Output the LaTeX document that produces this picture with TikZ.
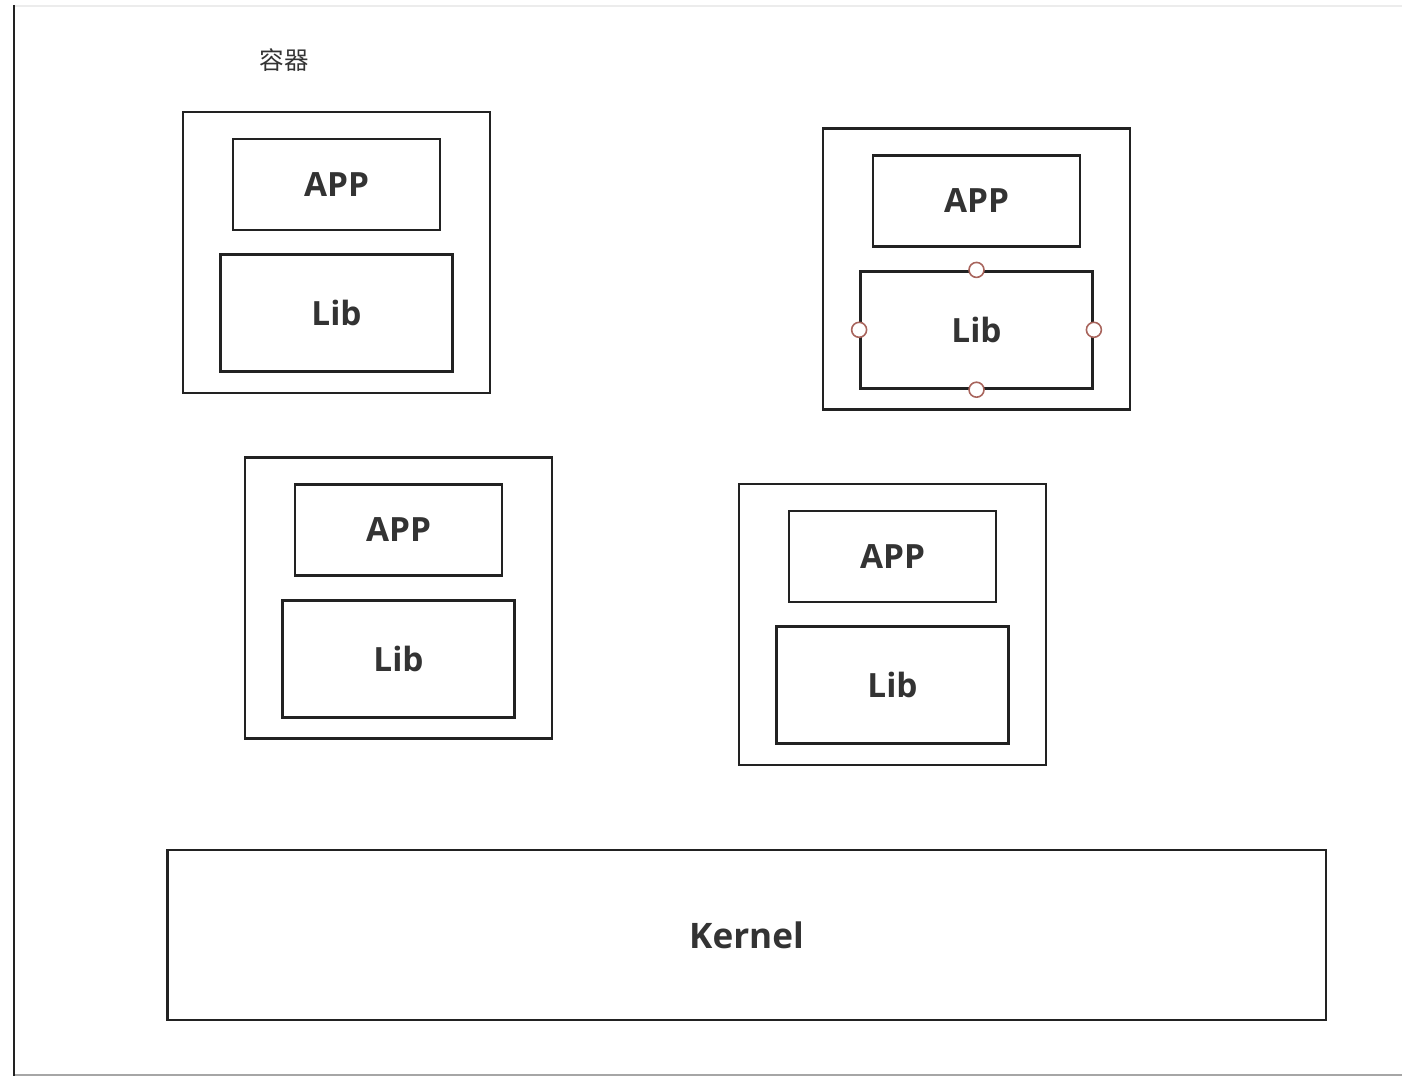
\documentclass[tikz,border=0pt]{standalone}
\usepackage{fontspec}
\usepackage{xcolor}
\usepackage{tikz}
\usetikzlibrary{positioning}
\setmainfont{Open Sans}
\newfontfamily\cjk{Noto Sans CJK TC}
\definecolor{ink}{HTML}{222222}
\definecolor{txt}{HTML}{333333}
\definecolor{handlered}{HTML}{A8645C}
\tikzstyle{container} = [rectangle, draw=ink, line width=1.6pt, minimum width=6.14cm, minimum height=5.62cm]
\tikzstyle{app} = [rectangle, draw=ink, line width=1.6pt, text=txt, minimum width=4.14cm, minimum height=1.82cm, font=\fontsize{19}{22}\selectfont\bfseries]
\tikzstyle{lib} = [rectangle, draw=ink, line width=1.6pt, text=txt, minimum width=4.64cm, minimum height=2.34cm, font=\fontsize{19}{22}\selectfont\bfseries]
\tikzstyle{kernel} = [rectangle, draw=ink, line width=1.6pt, text=txt, minimum width=23.18cm, minimum height=3.4cm, font=\fontsize{20}{24}\selectfont\bfseries]
\tikzstyle{handle} = [circle, draw=handlered, fill=white, line width=0.9pt, minimum size=0.3cm, inner sep=0pt]

\begin{document}
\begin{tikzpicture}[x=0.02cm, y=-0.02cm, node distance=0.44cm]
\useasboundingbox (0,0) rectangle (1412,1081);
% window frame
\draw[gray!15, line width=1pt] (14,6) -- (1402,6);
\draw[gray!70, line width=1.2pt] (14,1075) -- (1402,1075);
\draw[ink, line width=1.6pt] (14,5) -- (14,1076);

\node (title) [text=txt, font=\cjk\fontsize{14}{16}\selectfont] at (284,60) {容器};

% containers
\node (c1) [container] at (336.5,252.5) {};
\node (app1) [app, below=0.54cm of c1.north] {APP};
\node (lib1) [lib, below=of app1] {Lib};

\node (c2) [container] at (976.5,269) {};
\node (app2) [app, below=0.54cm of c2.north] {APP};
\node (lib2) [lib, below=of app2] {Lib};

\node (c3) [container] at (398.5,598) {};
\node (app3) [app, below=0.54cm of c3.north] {APP};
\node (lib3) [lib, below=of app3] {Lib};

\node (c4) [container] at (892.5,624.5) {};
\node (app4) [app, below=0.54cm of c4.north] {APP};
\node (lib4) [lib, below=of app4] {Lib};

% selection handles
\foreach \side in {north,south,east,west}
  \node (h-\side) [handle] at (lib2.\side) {};

\node (kernel) [kernel] at (746.5,935) {Kernel};
\end{tikzpicture}
\end{document}
